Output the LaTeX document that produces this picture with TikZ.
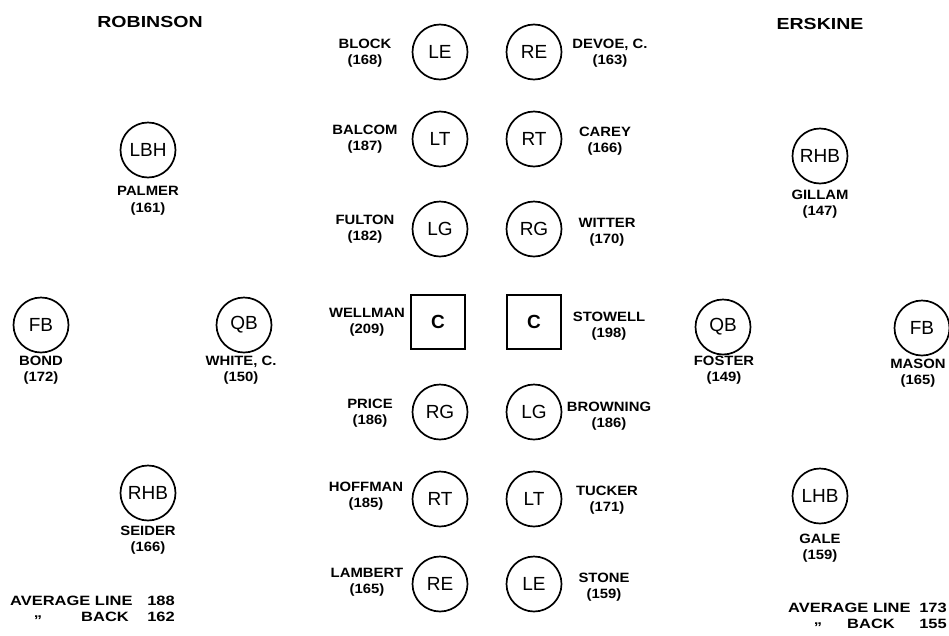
\documentclass[tikz,border=0pt]{standalone}
\usepackage{fontspec}
\setmainfont{Liberation Sans}
\newfontfamily\lblfont[FakeStretch=1.1]{Liberation Sans}
\newfontfamily\widefont[FakeStretch=1.22]{Liberation Sans}
\begin{document}
\begin{tikzpicture}[x=1pt,y=-1pt,
  plyr/.style={circle,draw,line width=1.7pt,minimum size=55pt,inner sep=0pt,font=\fontsize{19}{19}\selectfont},
  ctrbox/.style={rectangle,draw,line width=1.7pt,minimum size=54pt,inner sep=0pt,font=\fontsize{19}{19}\selectfont\bfseries},
  lbl/.style={align=center,font=\lblfont\fontsize{13.5}{16.5}\selectfont\bfseries,inner sep=0pt},
  ttl/.style={font=\widefont\fontsize{16}{16}\selectfont\bfseries,inner sep=0pt},
  avgtxt/.style={font=\widefont\fontsize{13.5}{16}\selectfont\bfseries,inner sep=0pt},
]
\useasboundingbox (0,0) rectangle (949,635);

% titles
\node[ttl] (trob) at (150,22) {ROBINSON};
\node[ttl] (ters) at (820,24) {ERSKINE};

% Robinson backs
\node[plyr] (lbh) at (148,150) {LBH};
\node[lbl] (lbhL) at (148,201) {PALMER\\(161)};
\node[plyr] (fbl) at (41,325) {FB};
\node[lbl] (fblL) at (41,370) {BOND\\(172)};
\node[plyr] (qbl) at (244,325) {QB};
\node[lbl] (qblL) at (241,370) {WHITE, C.\\(150)};
\node[plyr] (rhbl) at (148,493) {RHB};
\node[lbl] (rhblL) at (148,540) {SEIDER\\(166)};

% Erskine backs
\node[plyr] (rhbr) at (820,156) {RHB};
\node[lbl] (rhbrL) at (820,204) {GILLAM\\(147)};
\node[plyr] (qbr) at (723,327) {QB};
\node[lbl] (qbrL) at (724,370) {FOSTER\\(149)};
\node[plyr] (fbr) at (922,328) {FB};
\node[lbl] (fbrL) at (918,373) {MASON\\(165)};
\node[plyr] (lhbr) at (820,496) {LHB};
\node[lbl] (lhbrL) at (820,548) {GALE\\(159)};

% Robinson line (left of centre)
\node[plyr] (le1) at (440,52) {LE};
\node[lbl] (le1L) at (365,53) {BLOCK\\(168)};
\node[plyr] (lt1) at (440,139) {LT};
\node[lbl] (lt1L) at (365,139) {BALCOM\\(187)};
\node[plyr] (lg1) at (440,229) {LG};
\node[lbl] (lg1L) at (365,229) {FULTON\\(182)};
\node[ctrbox] (c1) at (438,322) {C};
\node[lbl] (c1L) at (367,322) {WELLMAN\\(209)};
\node[plyr] (rg1) at (440,412) {RG};
\node[lbl] (rg1L) at (370,413) {PRICE\\(186)};
\node[plyr] (rt1) at (440,499) {RT};
\node[lbl] (rt1L) at (366,496) {HOFFMAN\\(185)};
\node[plyr] (re1) at (440,584) {RE};
\node[lbl] (re1L) at (367,582) {LAMBERT\\(165)};

% Erskine line (right of centre)
\node[plyr] (re2) at (534,52) {RE};
\node[lbl] (re2L) at (610,53) {DEVOE, C.\\(163)};
\node[plyr] (rt2) at (534,139) {RT};
\node[lbl] (rt2L) at (605,141) {CAREY\\(166)};
\node[plyr] (rg2) at (534,229) {RG};
\node[lbl] (rg2L) at (607,232) {WITTER\\(170)};
\node[ctrbox] (c2) at (534,322) {C};
\node[lbl] (c2L) at (609,326) {STOWELL\\(198)};
\node[plyr] (lg2) at (534,412) {LG};
\node[lbl] (lg2L) at (609,416) {BROWNING\\(186)};
\node[plyr] (lt2) at (534,499) {LT};
\node[lbl] (lt2L) at (607,500) {TUCKER\\(171)};
\node[plyr] (le2) at (534,584) {LE};
\node[lbl] (le2L) at (604,587) {STONE\\(159)};

% averages, Robinson
\node[avgtxt,anchor=west] (al1) at (10,601) {AVERAGE LINE};
\node[avgtxt,anchor=east] (al1n) at (175,601) {188};
\node[avgtxt] (ab1d) at (38,618) {„};
\node[avgtxt,anchor=east] (ab1) at (129,617) {BACK};
\node[avgtxt,anchor=east] (ab1n) at (175,617) {162};

% averages, Erskine
\node[avgtxt,anchor=west] (al2) at (788,608) {AVERAGE LINE};
\node[avgtxt,anchor=east] (al2n) at (947,608) {173};
\node[avgtxt] (ab2d) at (818,625) {„};
\node[avgtxt,anchor=east] (ab2) at (895,624) {BACK};
\node[avgtxt,anchor=east] (ab2n) at (947,624) {155};
\end{tikzpicture}
\end{document}
